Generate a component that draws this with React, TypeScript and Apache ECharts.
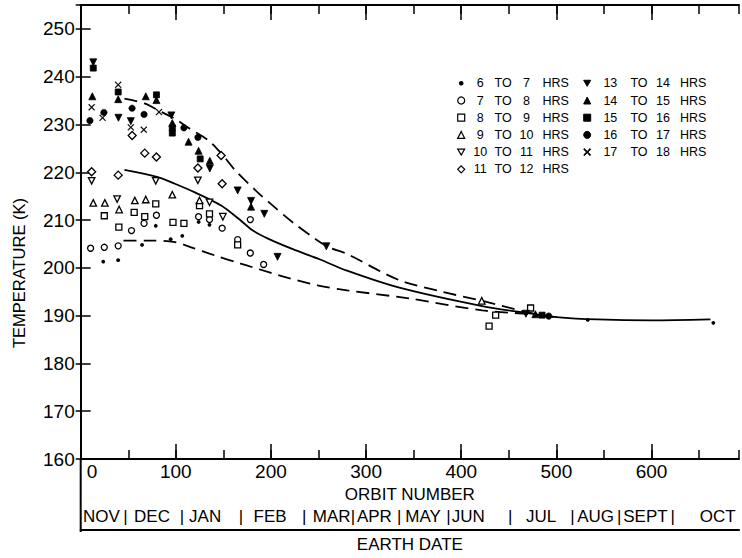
import React, { useEffect, useRef } from 'react';
import * as echarts from 'echarts';

const FONT = '"Liberation Sans", Arial, Helvetica, sans-serif';

// ---- axes ----
const X_MIN = 0;
const X_MAX = 692;
const Y_MIN = 160;
const Y_MAX = 255;
const Y_INTERVAL = 10;
const X_MINOR_INTERVAL = 50;
const X_MAJOR_TICKS = [0, 100, 200, 300, 400, 500, 600];

// ---- earth-date row ----
const MONTHS = ['NOV', 'DEC', 'JAN', 'FEB', 'MAR', 'APR', 'MAY', 'JUN', 'JUL', 'AUG', 'SEPT', 'OCT'];
const MONTH_POS = [21.8, 75.0, 130.8, 199.1, 263.8, 308.7, 359.9, 407.4, 484.0, 541.3, 593.7, 669.5];
const MONTH_SEPARATORS = [47.0, 106.5, 168.5, 235.0, 286.2, 334.8, 386.5, 451.6, 516.8, 566.1, 622.3];

// ---- legend names ----
const LEGEND_LEFT = ['6 TO 7 HRS', '7 TO 8 HRS', '8 TO 9 HRS', '9 TO 10 HRS', '10 TO 11 HRS', '11 TO 12 HRS'];
const LEGEND_RIGHT = ['13 TO 14 HRS', '14 TO 15 HRS', '15 TO 16 HRS', '16 TO 17 HRS', '17 TO 18 HRS'];

// ---- observations [orbit, temperature K] ----
const H06_07 = [[23.7, 201.3], [39.4, 201.6], [64.5, 204.8], [78.9, 208.8], [94.6, 206.0], [106.8, 206.7], [124, 209.6], [135.4, 209.0], [533, 189.1], [665, 188.5]];
const H07_08 = [[10.4, 204.1], [24.8, 204.3], [39.4, 204.6], [53.4, 207.8], [66.6, 209.3], [79.6, 211.0], [123.9, 210.7], [135.4, 210.1], [148.7, 208.3], [165, 205.9], [178.3, 210.1], [178.3, 203.1], [192.3, 200.7]];
const H08_09 = [[24.8, 210.9], [40.1, 208.5], [56.2, 211.6], [67.3, 210.7], [78.9, 213.4], [97, 209.5], [108.5, 209.3], [124.9, 213.0], [135.4, 211.3], [165, 204.8], [429.3, 187.8], [436.2, 190.1], [472.9, 191.6]];
const H09_10 = [[13.2, 213.6], [25.4, 213.6], [40.4, 212.2], [56.9, 214.1], [68.4, 214.3], [96.3, 215.3], [124.9, 214.1], [421.6, 193.1]];
const H10_11 = [[11.5, 218.2], [38.3, 214.4], [78.9, 218.2], [123.2, 218.3], [135.4, 213.7], [149.4, 210.7]];
const H11_12 = [[11.5, 220.1], [39.4, 219.4], [54.1, 227.7], [67.3, 224.0], [79.6, 223.2], [123.2, 220.9], [147.6, 223.5], [148.7, 217.6]];
const H13_14 = [[13.2, 243.0], [39.7, 231.4], [52.7, 230.7], [95.3, 231.9], [135.7, 220.8], [165, 216.2], [179.1, 214.0], [193, 211.3], [206.9, 202.3], [258.2, 204.5], [468, 190.4]];
const H14_15 = [[12.2, 235.9], [39.4, 235.3], [68.4, 235.9], [79.6, 235.1], [96.3, 230.3], [113.4, 226.4], [123.9, 224.5], [135.7, 222.4], [179.1, 212.8], [478, 190.3]];
const H15_16 = [[13.2, 241.8], [39.4, 236.8], [79.6, 236.2], [96.3, 229.3], [96.3, 228.2], [125.6, 222.8], [485, 190.1]];
const H16_17 = [[9.7, 230.8], [24.4, 232.5], [54, 233.4], [66.6, 232.1], [108.5, 229.3], [123.2, 227.3], [492, 189.9]];
const H17_18 = [[11.5, 233.6], [23, 231.4], [39.4, 238.3], [52.7, 229.4], [66.3, 228.9], [82.3, 232.6]];

// ---- envelope curves [orbit, temperature K] ----
const UPPER = [[46, 235.4], [67, 234.4], [85, 232.6], [99, 231.2], [114, 229.2], [134, 226.7], [151, 223.2], [162, 220.5], [186, 215.8], [198, 213.7], [223, 209.5], [247, 206.0], [261, 204.3], [280, 202.9], [334, 197.5], [380, 195.0], [422, 193.1], [474, 190.5], [500, 189.6]];
const MIDDLE = [[46, 220.5], [81, 219.0], [99, 217.6], [120, 215.8], [148, 213.0], [167, 210.1], [181, 207.8], [198, 206.0], [223, 203.9], [251, 201.8], [280, 199.4], [334, 195.9], [422, 192.0], [474, 190.4], [500, 189.7], [543, 189.2], [600, 189.0], [662, 189.2]];
const LOWER = [[45, 205.7], [71, 205.7], [99, 205.4], [116, 204.3], [141, 202.6], [168, 200.9], [181, 200.1], [216, 198.0], [250, 196.3], [280, 195.3], [345, 193.6], [422, 191.1], [474, 190.3], [500, 189.7]];

const DOWN = 'path://M0,0L10,0L5,8.66Z';
const CROSS = 'path://M1,0L5,4L9,0L10,1L6,5L10,9L9,10L5,6L1,10L0,9L4,5L0,1Z';

const SCATTER = [
  { name: LEGEND_LEFT[0], data: H06_07, symbol: 'circle', size: 3.8, fill: '#000', bw: 0 },
  { name: LEGEND_LEFT[1], data: H07_08, symbol: 'circle', size: 6, fill: '#fff', bw: 1.3 },
  { name: LEGEND_LEFT[2], data: H08_09, symbol: 'rect', size: 6, fill: '#fff', bw: 1.3 },
  { name: LEGEND_LEFT[3], data: H09_10, symbol: 'triangle', size: 6.5, fill: '#fff', bw: 1.3 },
  { name: LEGEND_LEFT[4], data: H10_11, symbol: DOWN, size: 6.5, fill: '#fff', bw: 1.3 },
  { name: LEGEND_LEFT[5], data: H11_12, symbol: 'diamond', size: 8, fill: '#fff', bw: 1.3 },
  { name: LEGEND_RIGHT[0], data: H13_14, symbol: DOWN, size: 7, fill: '#000', bw: 0.8 },
  { name: LEGEND_RIGHT[1], data: H14_15, symbol: 'triangle', size: 7, fill: '#000', bw: 0.8 },
  { name: LEGEND_RIGHT[2], data: H15_16, symbol: 'rect', size: 6, fill: '#000', bw: 0.8 },
  { name: LEGEND_RIGHT[3], data: H16_17, symbol: 'circle', size: 6.5, fill: '#000', bw: 0.5 },
  { name: LEGEND_RIGHT[4], data: H17_18, symbol: CROSS, size: 6.5, fill: '#000', bw: 0.3 },
];

function legendFormatter(name: string) {
  const p = name.split(' ');
  return `{a|${p[0]}}{b|${p[1]}}{c|${p[2]}}{d|${p[3]}}`;
}

function legendRich(aw: number, bw: number, cw: number, dp: number) {
  const base = { fontFamily: FONT, fontSize: 12.5, color: '#000', lineHeight: 14 };
  return {
    a: { ...base, width: aw, align: 'right' },
    b: { ...base, width: bw, align: 'center' },
    c: { ...base, width: cw, align: 'right' },
    d: { ...base, padding: [0, 0, 0, dp] },
  };
}

function near(a: number, b: number) {
  return Math.abs(a - b) < 0.05;
}

export default function App() {
  const ref = useRef<HTMLDivElement>(null);
  useEffect(() => {
    const chart = echarts.init(ref.current!, null, { renderer: 'svg' });
    const axisLine = { show: true, lineStyle: { color: '#000', width: 2 } };
    const tickStyle = { color: '#000', width: 1.5 };
    const option: any = {
      animation: false,
      backgroundColor: '#fff',
      grid: { left: 80.7, right: 0, top: 5, bottom: 98, containLabel: false },
      xAxis: [
        {
          type: 'value', position: 'bottom', min: X_MIN, max: X_MAX, interval: X_MINOR_INTERVAL,
          axisLine, splitLine: { show: false },
          axisTick: { show: true, inside: true, length: 9, lineStyle: tickStyle },
          axisLabel: {
            color: '#000', fontFamily: FONT, fontSize: 19, margin: 3,
            alignMinLabel: 'left',
            formatter: (v: number) => (v === 0 ? '{z|0}' : v % 100 === 0 ? String(v) : ''),
            rich: { z: { fontFamily: FONT, fontSize: 19, color: '#000', padding: [0, 0, 0, 6] } },
          },
          name: 'ORBIT NUMBER', nameLocation: 'middle', nameGap: 26,
          nameTextStyle: { color: '#000', fontFamily: FONT, fontSize: 17 },
        },
        {
          type: 'value', position: 'bottom', min: X_MIN, max: X_MAX,
          axisLine: { show: false }, splitLine: { show: false }, axisLabel: { show: false },
          axisTick: { show: true, inside: true, length: 15, lineStyle: tickStyle, customValues: X_MAJOR_TICKS },
        },
        {
          type: 'value', position: 'top', min: X_MIN, max: X_MAX, interval: X_MINOR_INTERVAL,
          axisLine, splitLine: { show: false }, axisLabel: { show: false },
          axisTick: { show: true, inside: true, length: 9, lineStyle: tickStyle },
        },
        {
          type: 'value', position: 'top', min: X_MIN, max: X_MAX,
          axisLine: { show: false }, splitLine: { show: false }, axisLabel: { show: false },
          axisTick: { show: true, inside: true, length: 15, lineStyle: tickStyle, customValues: X_MAJOR_TICKS },
        },
        {
          type: 'value', position: 'bottom', offset: 71, min: X_MIN, max: X_MAX,
          axisLine, splitLine: { show: false }, axisTick: { show: false },
          axisLabel: {
            inside: true, margin: 5, color: '#000', fontFamily: FONT, fontSize: 17,
            customValues: [...MONTH_POS, ...MONTH_SEPARATORS].sort((a, b) => a - b),
            formatter: (v: number) => {
              const i = MONTH_POS.findIndex((m) => near(m, v));
              return i >= 0 ? MONTHS[i] : '|';
            },
          },
          name: 'EARTH DATE', nameLocation: 'middle', nameGap: 6,
          nameTextStyle: { color: '#000', fontFamily: FONT, fontSize: 17 },
        },
      ],
      yAxis: [
        {
          type: 'value', position: 'left', min: Y_MIN, max: Y_MAX, interval: Y_INTERVAL,
          axisLine, splitLine: { show: false },
          axisTick: { show: true, inside: true, length: 10, lineStyle: tickStyle },
          axisLabel: {
            color: '#000', fontFamily: FONT, fontSize: 19, margin: 6,
            formatter: (v: number) => (v % 10 === 0 ? String(v) : ''),
          },
        },
        {
          type: 'value', position: 'right', min: Y_MIN, max: Y_MAX, interval: Y_INTERVAL,
          axisLine: { show: true, lineStyle: { color: '#000', width: 1.5 } }, splitLine: { show: false }, axisLabel: { show: false },
          axisTick: { show: true, inside: true, length: 5, lineStyle: tickStyle },
        },
      ],
      legend: [
        {
          data: LEGEND_LEFT.map((n, i) => (i === 0 ? { name: n, itemStyle: { borderColor: '#fff', borderWidth: 2.4 } } : n)),
          orient: 'vertical', left: 456.5, top: 76.3, padding: 0,
          itemWidth: 7, itemHeight: 7, itemGap: 3.2, selectedMode: false,
          itemStyle: { borderWidth: 1.2 },
          formatter: legendFormatter,
          textStyle: { fontFamily: FONT, fontSize: 12.5, color: '#000', lineHeight: 14, rich: legendRich(21, 25, 21.7, 5) },
        },
        {
          data: LEGEND_RIGHT,
          orient: 'vertical', left: 583.2, top: 76.3, padding: 0,
          itemWidth: 7, itemHeight: 7, itemGap: 3.2, selectedMode: false,
          itemStyle: { borderWidth: 1 },
          formatter: legendFormatter,
          textStyle: { fontFamily: FONT, fontSize: 12.5, color: '#000', lineHeight: 14, rich: legendRich(29.3, 28, 20, 7) },
        },
      ],
      graphic: [
        { type: 'line', shape: { x1: 80.7, y1: 459, x2: 80.7, y2: 532 }, style: { stroke: '#000', lineWidth: 2 } },
        {
          type: 'text', x: 19, y: 273, rotation: Math.PI / 2,
          style: { text: 'TEMPERATURE (K)', fontFamily: FONT, fontSize: 16.5, fill: '#000', align: 'center', verticalAlign: 'middle' },
        },
      ],
      series: [
        {
          type: 'line', name: 'upper', data: UPPER, smooth: 0.3, showSymbol: false, symbol: 'none', z: 2,
          lineStyle: { color: '#000', width: 1.8, type: [13, 7] },
        },
        {
          type: 'line', name: 'middle', data: MIDDLE, smooth: 0.3, showSymbol: false, symbol: 'none', z: 2,
          lineStyle: { color: '#000', width: 1.8 },
        },
        {
          type: 'line', name: 'lower', data: LOWER, smooth: 0.3, showSymbol: false, symbol: 'none', z: 2,
          lineStyle: { color: '#000', width: 1.8, type: [13, 7] },
        },
        ...SCATTER.map((s) => ({
          type: 'scatter', name: s.name, data: s.data, symbol: s.symbol, symbolSize: s.size, z: 3,
          itemStyle: { color: s.fill, borderColor: '#000', borderWidth: s.bw, opacity: 1 },
        })),
      ],
    };
    chart.setOption(option);
    return () => chart.dispose();
  }, []);
  return (
    <div
      ref={ref}
      style={{ position: 'absolute', left: 0, top: 0, width: 742, height: 558, background: '#fff' }}
    />
  );
}
